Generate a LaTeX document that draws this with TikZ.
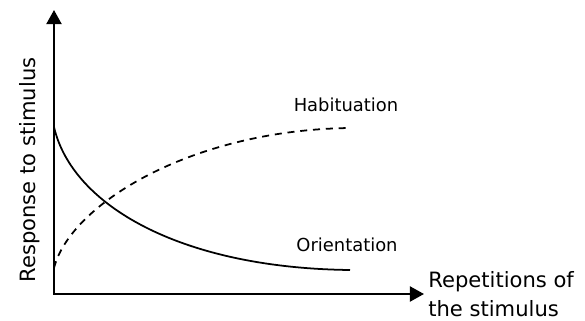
\documentclass[tikz,border=0pt]{standalone}
\usepackage{fontspec}
\setmainfont{DejaVu Sans}
\usetikzlibrary{arrows.meta}
\tikzset{
  axis/.style={line width=1.3pt, {Triangle[length=8pt,width=8.5pt]}-{Triangle[length=8pt,width=8.5pt]}},
  curve/.style={line width=1pt},
  label/.style={inner sep=0pt, font=\fontsize{10.2}{17}\selectfont},
  axislabel/.style={inner sep=0pt, font=\fontsize{12}{16.5}\selectfont}
}
\begin{document}
\begin{tikzpicture}[x=0.02cm, y=-0.02cm]
    \useasboundingbox (0,0) rectangle (585,321);
      %%axes
      \coordinate (ytip) at (54,10);
      \coordinate (origin) at (54,294);
      \coordinate (xtip) at (424,294);
    \draw[axis](ytip) -- (origin) -- (xtip);
      \node[axislabel, rotate=90] (ylab) at (30,170){Response to stimulus};
      \node[axislabel, anchor=west, align=left] (xlab) at (428,294){Repetitions of\\the stimulus};

      %%orientation
      \coordinate (ostart) at (54,127);
      \coordinate (oend) at (350,270);
    \draw[curve](ostart) .. controls (72,205) and (180,268) .. (oend);
      \node[label] (olab) at (347,245){Orientation};

      %%habituation
      \coordinate (hstart) at (54,268);
      \coordinate (hend) at (350,128);
    \draw[curve, dash pattern=on 4pt off 3.3pt](hstart) .. controls (70,205) and (190,130) .. (hend);
      \node[label] (hlab) at (346,105){Habituation};
\end{tikzpicture}
\end{document}
